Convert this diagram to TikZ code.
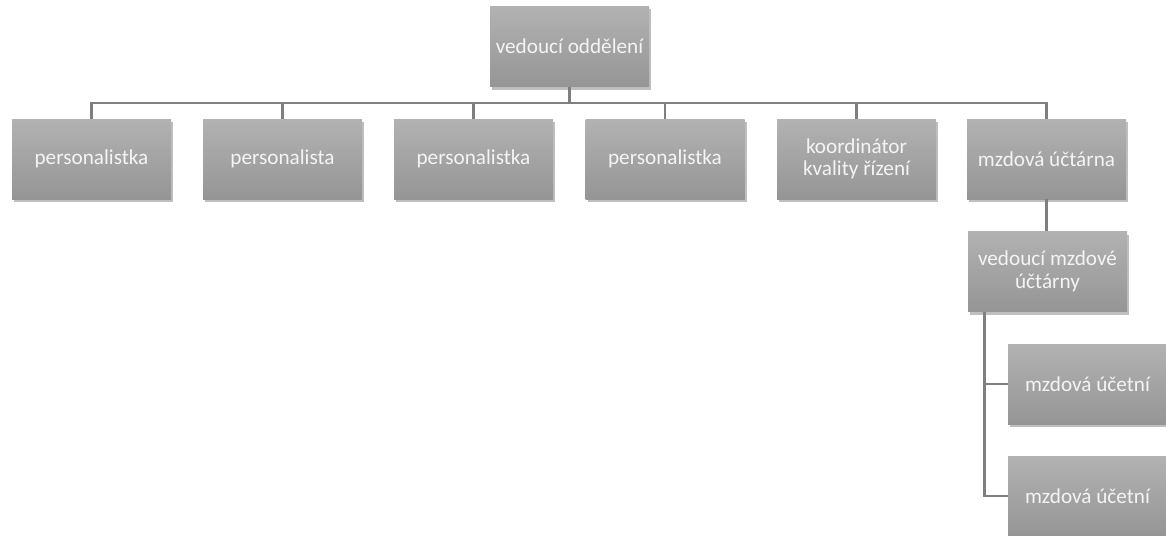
\documentclass[tikz,border=0pt]{standalone}
\usepackage{fontspec}
\setmainfont{Carlito}
\usetikzlibrary{shadows}
\definecolor{boxtop}{HTML}{B2B2B2}
\definecolor{boxbot}{HTML}{959595}
\definecolor{linegray}{HTML}{7F7F7F}
\definecolor{txt}{HTML}{F4F4F4}
\tikzset{
  orgbox/.style={rectangle, minimum width=159pt, minimum height=80pt, inner sep=2pt,
    top color=boxtop, bottom color=boxbot, draw=none,
    text=txt, align=center, font=\fontsize{21.2pt}{22.5pt}\selectfont,
    drop shadow={opacity=0.5, shadow xshift=2pt, shadow yshift=-3pt}},
  conn/.style={draw=linegray, line width=2.7pt}
}
\begin{document}
\begin{tikzpicture}[x=1pt,y=-1pt]
\useasboundingbox (0,0) rectangle (1166,535);
\node[orgbox] (top) at (569.5,46.5) {vedoucí oddělení};
\node[orgbox] (p1) at (91.5,159) {personalistka};
\node[orgbox] (p2) at (282.5,159) {personalista};
\node[orgbox] (p3) at (473.5,159) {personalistka};
\node[orgbox] (p4) at (665,159) {personalistka};
\node[orgbox] (k) at (856.5,159) {koordinátor\\kvality řízení};
\node[orgbox] (mu) at (1046.5,159) {mzdová účtárna};
\node[orgbox] (vm) at (1047.5,271.5) {vedoucí mzdové\\účtárny};
\node[orgbox] (u1) at (1087.5,384) {mzdová účetní};
\node[orgbox] (u2) at (1087.5,496) {mzdová účetní};
\coordinate (bus) at (569.5,103);
\draw[conn] (top.south) -- (bus);
\foreach \n in {p1,p2,p3,p4,k,mu}{
  \draw[conn] (\n.north) -- (\n.north |- bus) -- (bus);
}
\draw[conn] (mu.south) -- (vm.north -| mu.south);
\coordinate (hang) at ([xshift=17pt]vm.south west);
\draw[conn] (hang) |- (u1.west);
\draw[conn] (hang) |- (u2.west);
\end{tikzpicture}
\end{document}
